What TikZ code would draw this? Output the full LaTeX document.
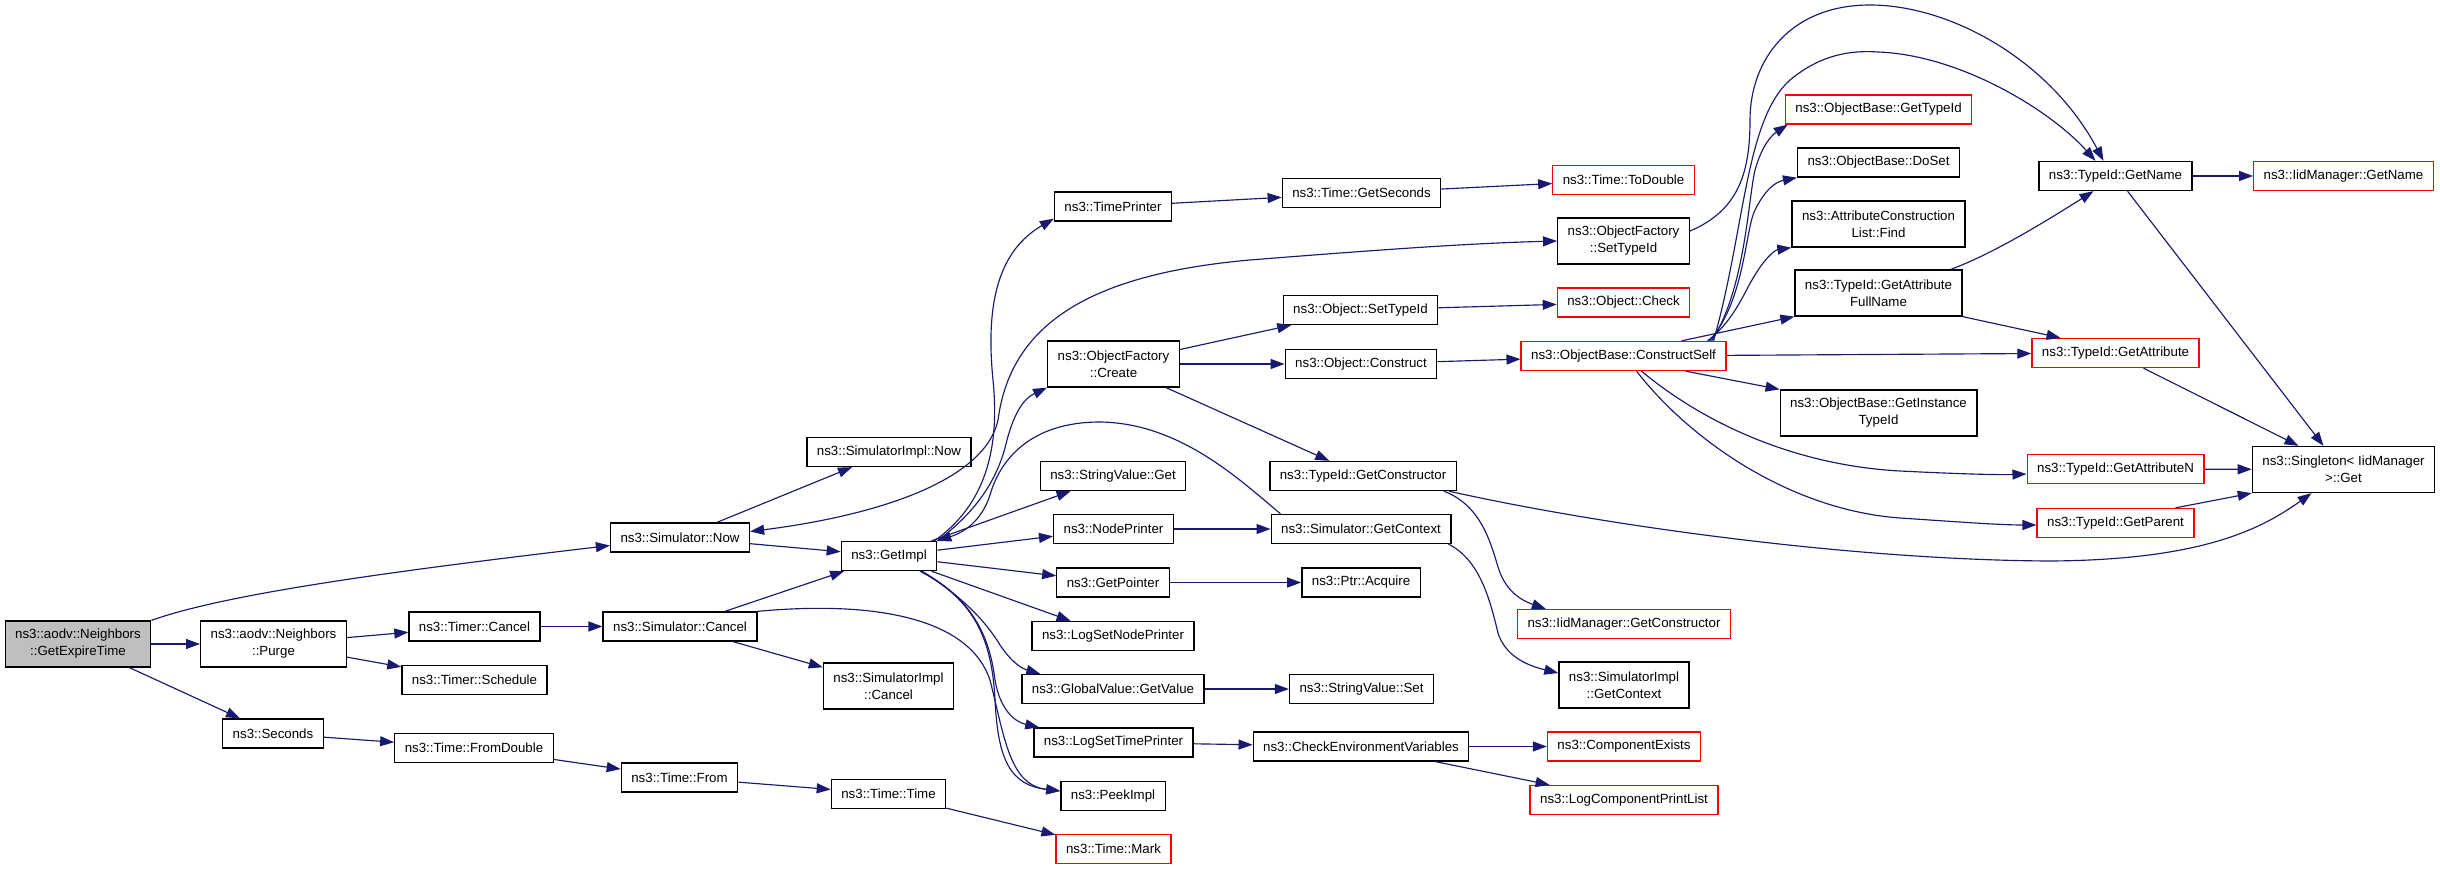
\documentclass[tikz,border=0pt]{standalone}
\usepackage{fontspec}
\setmainfont{Liberation Sans}
\usetikzlibrary{arrows.meta}
\definecolor{edgec}{HTML}{191970}
\definecolor{redc}{HTML}{FF0000}
\definecolor{grayc}{HTML}{BFBFBF}
\begin{document}
\begin{tikzpicture}[x=1pt,y=-1pt,
 box/.style={draw=black, line width=1.3pt, fill=white, inner xsep=10pt, inner ysep=2pt,
   minimum height=29pt, font=\fontsize{13.3}{17}\selectfont, align=center},
 two/.style={minimum height=46pt},
 redbox/.style={draw=redc},
 edge/.style={draw=edgec, line width=1.15pt, -{Triangle[length=14pt,width=10pt]}},
 edgeboth/.style={draw=edgec, line width=1.15pt, {Triangle[length=14pt,width=10pt]}-{Triangle[length=14pt,width=10pt]}},
]
\useasboundingbox[fill=white] (0,0) rectangle (2440,869);

% nodes
\node[box,two,fill=grayc] (getexp) at (78,644) {ns3::aodv::Neighbors\\::GetExpireTime};
\node[box,two] (purge) at (273.5,644) {ns3::aodv::Neighbors\\::Purge};
\node[box] (tcancel) at (474.5,626.5) {ns3::Timer::Cancel};
\node[box] (tsched) at (474.5,680) {ns3::Timer::Schedule};
\node[box] (seconds) at (273,733.5) {ns3::Seconds};
\node[box] (snow) at (680,537.5) {ns3::Simulator::Now};
\node[box] (scancel) at (680,626.5) {ns3::Simulator::Cancel};
\node[box] (simpnow) at (889,452) {ns3::SimulatorImpl::Now};
\node[box,two] (simpcancel) at (888.5,686) {ns3::SimulatorImpl\\::Cancel};
\node[box] (fromdouble) at (474,748) {ns3::Time::FromDouble};
\node[box] (tfrom) at (679.5,777.5) {ns3::Time::From};
\node[box] (ttime) at (888.5,794) {ns3::Time::Time};
\node[box,redbox] (tmark) at (1113.5,849) {ns3::Time::Mark};
\node[box] (getimpl) at (889,556) {ns3::GetImpl};
\node[box] (timeprinter) at (1113,206.5) {ns3::TimePrinter};
\node[box,two] (ofcreate) at (1113.5,364) {ns3::ObjectFactory\\::Create};
\node[box] (svget) at (1113,476) {ns3::StringValue::Get};
\node[box] (nodeprinter) at (1113.5,529) {ns3::NodePrinter};
\node[box] (getpointer) at (1113,582.5) {ns3::GetPointer};
\node[box] (logsetnp) at (1113,636) {ns3::LogSetNodePrinter};
\node[box] (gvgetvalue) at (1113,689) {ns3::GlobalValue::GetValue};
\node[box] (logsettp) at (1113.5,742.5) {ns3::LogSetTimePrinter};
\node[box] (peekimpl) at (1113,796) {ns3::PeekImpl};
\node[box] (getseconds) at (1361.5,193) {ns3::Time::GetSeconds};
\node[box,redbox] (todouble) at (1623.5,180) {ns3::Time::ToDouble};
\node[box,two] (ofsettypeid) at (1623.5,241) {ns3::ObjectFactory\\::SetTypeId};
\node[box] (osettypeid) at (1360.5,310) {ns3::Object::SetTypeId};
\node[box] (oconstruct) at (1361,364) {ns3::Object::Construct};
\node[box] (tgetctor) at (1363,476) {ns3::TypeId::GetConstructor};
\node[box] (sgetctx) at (1361,529) {ns3::Simulator::GetContext};
\node[box] (ptracq) at (1361,582.5) {ns3::Ptr::Acquire};
\node[box] (svset) at (1361.5,689) {ns3::StringValue::Set};
\node[box] (checkenv) at (1361,746.5) {ns3::CheckEnvironmentVariables};
\node[box,redbox] (ocheck) at (1623.5,302.5) {ns3::Object::Check};
\node[box,redbox] (cs) at (1623.5,356) {ns3::ObjectBase::ConstructSelf};
\node[box,redbox] (iidgetctor) at (1624,624) {ns3::IidManager::GetConstructor};
\node[box,two] (simpgetctx) at (1624,685) {ns3::SimulatorImpl\\::GetContext};
\node[box,redbox] (compexists) at (1624,746.5) {ns3::ComponentExists};
\node[box,redbox] (logcpl) at (1624,800) {ns3::LogComponentPrintList};
\node[box,redbox] (obgettypeid) at (1878.5,109.5) {ns3::ObjectBase::GetTypeId};
\node[box] (doset) at (1878.5,162.5) {ns3::ObjectBase::DoSet};
\node[box,two] (acfind) at (1878.5,224) {ns3::AttributeConstruction\\List::Find};
\node[box,two] (getattrfull) at (1878.5,293) {ns3::TypeId::GetAttribute\\FullName};
\node[box,two] (getinsttypeid) at (1878.5,413) {ns3::ObjectBase::GetInstance\\TypeId};
\node[box] (tgetname) at (2115.5,176) {ns3::TypeId::GetName};
\node[box,redbox] (iidgetname) at (2343.5,176) {ns3::IidManager::GetName};
\node[box,redbox] (tgetattr) at (2115.5,353) {ns3::TypeId::GetAttribute};
\node[box,redbox] (tgetattrn) at (2115.5,469) {ns3::TypeId::GetAttributeN};
\node[box,redbox] (tgetparent) at (2115.5,523) {ns3::TypeId::GetParent};
\node[box,two] (singleton) at (2343.5,469.5) {ns3::Singleton< IidManager\\>::Get};

% straight edges
\draw[edge] (getexp) -- (purge);
\draw[edge] (getexp) -- (seconds);
\draw[edge] (purge) -- (tcancel);
\draw[edge] (purge) -- (tsched);
\draw[edge] (tcancel) -- (scancel);
\draw[edge] (scancel) -- (getimpl);
\draw[edge] (scancel) -- (simpcancel);
\draw[edge] (seconds) -- (fromdouble);
\draw[edge] (fromdouble) -- (tfrom);
\draw[edge] (tfrom) -- (ttime);
\draw[edge] (ttime) -- (tmark);
\draw[edge] (snow) -- (simpnow);
\draw[edge] (snow) -- (getimpl);
\draw[edge] (getimpl) -- (svget);
\draw[edge] (getimpl) -- (nodeprinter);
\draw[edge] (getimpl) -- (getpointer);
\draw[edge] (getimpl) -- (logsetnp);
\draw[edge] (timeprinter) -- (getseconds);
\draw[edge] (getseconds) -- (todouble);
\draw[edge] (ofcreate) -- (osettypeid);
\draw[edge] (ofcreate) -- (oconstruct);
\draw[edge] (ofcreate) -- (tgetctor);
\draw[edge] (osettypeid) -- (ocheck);
\draw[edge] (oconstruct) -- (cs);
\draw[edge] (nodeprinter) -- (sgetctx);
\draw[edge] (getpointer) -- (ptracq);
\draw[edge] (gvgetvalue) -- (svset);
\draw[edge] (logsettp) -- (checkenv);
\draw[edge] (checkenv) -- (compexists);
\draw[edge] (checkenv) -- (logcpl);
\draw[edge] ([xshift=58pt]cs.north) -- (getattrfull.south west);
\draw[edge] (cs) -- (tgetattr);
\draw[edge] ([xshift=62pt]cs.south) -- (getinsttypeid.north west);
\draw[edge] (getattrfull.south east) -- ([xshift=-55pt]tgetattr.north);
\draw[edge] (tgetname) -- (iidgetname);
\draw[edge] ([xshift=12pt]tgetname.south) -- ([xshift=-20pt]singleton.north);
\draw[edge] ([xshift=28pt]tgetattr.south) -- ([xshift=-45pt]singleton.north);
\draw[edge] (tgetattrn) -- (singleton);
\draw[edge] ([xshift=60pt]tgetparent.north) -- (singleton.south west);

% curved edges
\draw[edge] (getexp.north east) .. controls (230,592) and (420,568) .. ([yshift=-8pt]snow.west);
\draw[edgeboth] ([yshift=6pt]snow.east) .. controls (880,515) and (985,480) .. (998,420)
   .. controls (1010,330) and (1080,275) .. (1250,260)
   .. controls (1400,248) and (1480,243) .. (ofsettypeid.west);
\draw[edge] ([xshift=-3pt]getimpl.north east) .. controls (985,505) and (1000,450) .. (993,380)
   .. controls (985,300) and (1000,250) .. ([yshift=3pt]timeprinter.south west);
\draw[edge] (getimpl.north east) .. controls (985,505) and (1000,470) .. (1007,440)
   .. controls (1015,410) and (1025,398) .. (ofcreate.south west);
\draw[edge] ([xshift=10pt]sgetctx.north west) .. controls (1240,480) and (1180,423) .. (1100,422)
   .. controls (1030,422) and (1000,460) .. (990,495)
   .. controls (982,520) and (965,532) .. (getimpl.north east);
\draw[edge] (scancel.north east) .. controls (880,600) and (970,620) .. (990,680)
   .. controls (1005,740) and (1010,785) .. ([yshift=5pt]peekimpl.west);
\draw[edge] ([xshift=31pt]getimpl.south) .. controls (975,600) and (992,640) .. (995,700)
   .. controls (998,760) and (1010,785) .. ([yshift=5pt]peekimpl.west);
\draw[edge] ([xshift=33pt]getimpl.south) .. controls (960,595) and (985,620) .. (1000,645)
   .. controls (1010,660) and (1020,668) .. ([xshift=19pt]gvgetvalue.north west);
\draw[edge] ([xshift=32pt]getimpl.south) .. controls (975,600) and (990,640) .. (995,680)
   .. controls (1000,710) and (1015,722) .. ([xshift=6pt]logsettp.north west);

\draw[edge] ([yshift=10pt]ofsettypeid.east) .. controls (1740,210) and (1750,170) .. (1750,120)
   .. controls (1750,60) and (1790,5) .. (1870,5)
   .. controls (1950,5) and (2050,60) .. ([xshift=-12pt]tgetname.north);
\draw[edge] ([xshift=90pt]cs.north) .. controls (1745,230) and (1745,120) .. (1790,80)
   .. controls (1820,55) and (1850,50) .. (1878,52)
   .. controls (1960,55) and (2050,110) .. ([xshift=-20pt]tgetname.north);
\draw[edge] ([xshift=88pt]cs.north) .. controls (1745,290) and (1748,200) .. (1755,170)
   .. controls (1762,145) and (1772,135) .. ([xshift=3pt]obgettypeid.south west);
\draw[edge] ([xshift=86pt]cs.north) .. controls (1745,300) and (1745,230) .. (1755,210)
   .. controls (1765,190) and (1775,182) .. (doset.south west);
\draw[edge] ([xshift=84pt]cs.north) .. controls (1735,320) and (1745,290) .. (1755,275)
   .. controls (1765,258) and (1775,250) .. (acfind.south west);
\draw[edge] ([xshift=18pt]cs.south) .. controls (1700,420) and (1790,465) .. (1900,471)
   .. controls (1960,474) and (2000,475) .. ([yshift=-5pt]tgetattrn.west);
\draw[edge] ([xshift=13pt]cs.south) .. controls (1690,440) and (1790,510) .. (1900,518)
   .. controls (1960,522) and (2000,525) .. ([yshift=-2pt]tgetparent.west);
\draw[edge] ([xshift=-12pt]getattrfull.north east) .. controls (1990,255) and (2040,225) .. ([xshift=-22pt]tgetname.south);
\draw[edge] ([xshift=-8pt]tgetctor.south east) .. controls (1600,525) and (1850,560) .. (2050,561)
   .. controls (2200,560) and (2260,530) .. ([xshift=-32pt]singleton.south);
\draw[edge] ([xshift=-13pt]tgetctor.south east) .. controls (1480,505) and (1490,540) .. (1498,567)
   .. controls (1505,590) and (1520,600) .. ([xshift=29pt]iidgetctor.north west);
\draw[edge] ([xshift=-3pt]sgetctx.south east) .. controls (1480,560) and (1490,600) .. (1498,633)
   .. controls (1505,655) and (1525,665) .. ([yshift=12pt]simpgetctx.west);
\end{tikzpicture}
\end{document}
